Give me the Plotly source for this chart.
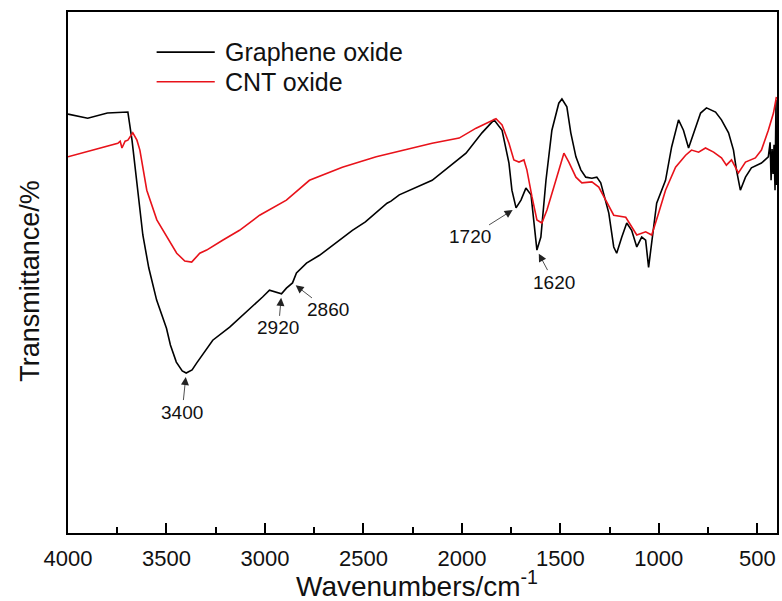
import plotly.graph_objects as go

# FTIR spectra: wavenumber (cm^-1) and relative transmittance (a.u.)
go_wavenumber = [4000, 3900, 3800, 3720, 3696, 3675, 3650, 3620, 3590, 3550, 3500, 3480,
                 3450, 3420, 3400, 3370, 3347, 3300, 3265, 3179, 3093, 3012, 2977, 2941,
                 2916, 2891, 2860, 2840, 2789, 2723, 2637, 2556, 2490, 2420, 2380, 2360,
                 2318, 2151, 1979, 1898, 1837, 1796, 1761, 1746, 1725, 1700, 1675, 1649,
                 1634, 1619, 1599, 1573, 1543, 1508, 1492, 1467, 1447, 1421, 1396, 1371,
                 1340, 1315, 1295, 1254, 1229, 1214, 1188, 1163, 1138, 1112, 1087, 1067,
                 1052, 1036, 1011, 966, 935, 900, 875, 849, 824, 788, 758, 712, 682, 646,
                 621, 606, 586, 560, 530, 479, 444, 435, 430, 425, 420, 415, 410, 405, 402]
go_transmittance = [80.4, 79.6, 80.6, 80.8, 80.8, 75.4, 66.8, 57.2, 50.9, 44.7, 39.3, 36.1,
                    32.8, 31.1, 30.7, 31.3, 32.6, 35.1, 37.0, 39.5, 42.4, 45.3, 46.6, 46.2,
                    45.9, 47.0, 48.0, 49.9, 51.8, 53.3, 55.8, 58.1, 59.7, 62.0, 63.3, 63.7,
                    64.9, 67.7, 72.9, 76.8, 79.3, 77.3, 71.0, 65.8, 62.4, 63.9, 66.2, 64.9,
                    60.1, 54.3, 56.8, 67.7, 77.3, 82.5, 83.3, 81.8, 76.8, 72.2, 69.7, 68.3,
                    68.1, 68.3, 67.2, 61.4, 54.9, 53.7, 56.8, 59.5, 58.1, 54.9, 56.8, 56.2,
                    51.0, 56.2, 63.3, 67.7, 74.1, 79.3, 77.3, 73.9, 76.8, 80.6, 81.6, 80.8,
                    79.3, 76.8, 73.5, 69.7, 65.8, 68.3, 70.1, 71.0, 72.2, 75.0, 67.7, 73.7,
                    68.9, 74.5, 65.8, 83.1, 66.8]

cnt_wavenumber = [4000, 3747, 3735, 3726, 3710, 3696, 3671, 3650, 3635, 3600, 3549, 3498,
                  3448, 3407, 3372, 3331, 3296, 3215, 3129, 3027, 2891, 2774, 2607, 2435,
                  2267, 2151, 2014, 1928, 1862, 1827, 1796, 1761, 1736, 1710, 1685, 1670,
                  1644, 1619, 1594, 1568, 1533, 1508, 1482, 1457, 1421, 1391, 1340, 1305,
                  1270, 1229, 1168, 1138, 1112, 1067, 1036, 1001, 966, 915, 864, 834, 798,
                  763, 722, 682, 657, 631, 596, 560, 510, 479, 444, 418, 403]
cnt_transmittance = [72.2, 74.8, 75.2, 73.9, 75.2, 75.4, 76.8, 75.4, 73.5, 65.8, 60.1, 56.8,
                     53.7, 52.2, 52.0, 53.7, 54.3, 56.2, 58.1, 61.0, 63.9, 67.7, 70.2, 72.2,
                     73.7, 74.8, 75.8, 77.7, 78.9, 79.5, 78.3, 74.8, 71.6, 71.2, 71.6, 69.7,
                     64.5, 60.1, 59.5, 62.0, 66.4, 69.7, 72.9, 71.2, 68.3, 67.2, 67.4, 66.4,
                     63.9, 61.0, 60.6, 58.7, 57.2, 57.8, 57.2, 61.4, 65.8, 70.2, 72.5, 73.5,
                     73.1, 73.9, 73.1, 72.0, 70.6, 71.6, 69.1, 71.2, 72.0, 73.5, 77.3, 80.6,
                     83.7]

# Labelled absorption bands (on the graphene oxide curve)
band_labels = ["3400", "2920", "2860", "1720", "1620"]
band_positions = [3400, 2916, 2860, 1725, 1619]
band_values = [30.7, 45.9, 48.0, 62.4, 54.3]
label_offsets = [(-4, 39), (-3, 34), (35, 27), (-46, 29), (17, 32)]

x_ticks = [4000, 3500, 3000, 2500, 2000, 1500, 1000, 500]

FONT = "Liberation Sans, Arial, sans-serif"
BLACK = "#000000"
RED = "#e8121a"

fig = go.Figure()
fig.add_trace(go.Scatter(x=go_wavenumber, y=go_transmittance, mode="lines",
                         name="Graphene oxide", line=dict(color=BLACK, width=1.6),
                         showlegend=False))
fig.add_trace(go.Scatter(x=cnt_wavenumber, y=cnt_transmittance, mode="lines",
                         name="CNT oxide", line=dict(color=RED, width=1.6),
                         showlegend=False))

annotations = []
for label, xv, yv, (dx, dy) in zip(band_labels, band_positions, band_values, label_offsets):
    annotations.append(dict(
        x=xv, y=yv, xref="x", yref="y", text=label, showarrow=True,
        ax=dx, ay=dy, arrowhead=2, arrowsize=2, arrowwidth=0.8, arrowcolor="#222222",
        standoff=4, font=dict(family=FONT, size=19, color="#111111")))

# Legend drawn as line samples with text entries
legend_items = [("Graphene oxide", BLACK, 0.923), ("CNT oxide", RED, 0.866)]
shapes = []
for name, color, ypos in legend_items:
    shapes.append(dict(type="line", xref="paper", yref="paper", x0=0.125, x1=0.207,
                       y0=ypos, y1=ypos, line=dict(color=color, width=1.6)))
    annotations.append(dict(x=0.218, y=ypos, xref="paper", yref="paper", text=name,
                            showarrow=False, xanchor="left", yanchor="middle",
                            font=dict(family=FONT, size=25, color="#111111")))

# Axis titles
annotations.append(dict(x=0.492, y=0, xref="paper", yref="paper", yanchor="middle",
                        yshift=-51, showarrow=False,
                        text="Wavenumbers/cm<sup>-1</sup>",
                        font=dict(family=FONT, size=28, color="#111111")))
annotations.append(dict(x=0, y=0.484, xref="paper", yref="paper", xanchor="center",
                        xshift=-38, showarrow=False, textangle=-90,
                        text="Transmittance/%",
                        font=dict(family=FONT, size=27, color="#111111")))

fig.update_layout(
    width=782, height=601,
    margin=dict(l=68, r=3, t=12, b=68),
    paper_bgcolor="white", plot_bgcolor="white",
    shapes=shapes, annotations=annotations,
    xaxis=dict(range=[4000, 400], tickvals=x_ticks, ticktext=[str(t) for t in x_ticks],
               ticks="inside", ticklen=10, tickwidth=1.5, tickcolor=BLACK,
               ticklabelstandoff=5,
               minor=dict(dtick=250, tick0=0, ticks="inside", ticklen=6, tickwidth=1.5,
                          tickcolor=BLACK, showgrid=False),
               showline=True, linecolor=BLACK, linewidth=2, mirror=True,
               showgrid=False, zeroline=False,
               tickfont=dict(family=FONT, size=22, color="#111111")),
    yaxis=dict(range=[0, 100], showticklabels=False, ticks="",
               showline=True, linecolor=BLACK, linewidth=2, mirror=True,
               showgrid=False, zeroline=False),
)

fig.write_html("out.html")
